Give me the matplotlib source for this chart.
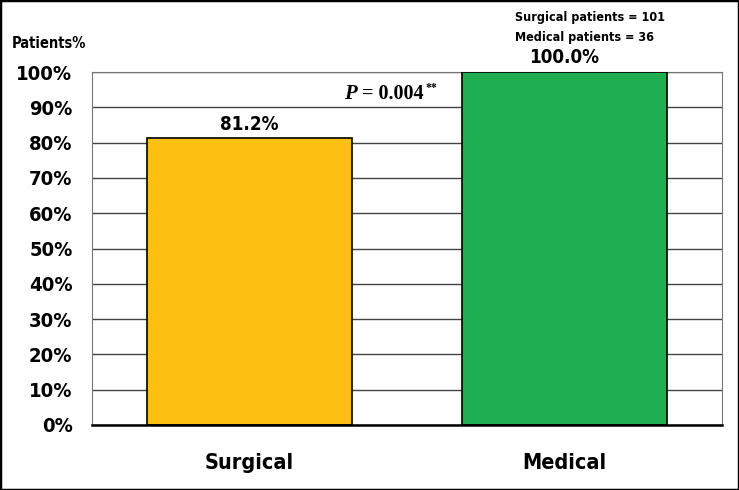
"""Percentage of patients by ward: surgical vs medical."""

import matplotlib
matplotlib.use("Agg")
import matplotlib.pyplot as plt
from matplotlib import font_manager
from matplotlib.patches import Rectangle

categories = ["Surgical", "Medical"]
values = [81.2, 100.0]
value_labels = ["81.2%", "100.0%"]
yticks = list(range(0, 101, 10))
ytick_labels = [f"{t}%" for t in yticks]
n_text = ["Surgical patients = 101", "Medical patients = 36"]
p_text = "= 0.004"

W, H = 739, 490

# pick a narrow sans if one is installed
fonts = font_manager.fontManager.ttflist
names = {f.name for f in fonts}
if "Liberation Sans Narrow" in names:
    sans = dict(fontfamily="Liberation Sans Narrow")
elif any(f.name == "DejaVu Sans" and f.stretch == "condensed" for f in fonts):
    sans = dict(fontfamily="DejaVu Sans", fontstretch="condensed")
else:
    sans = dict(fontfamily="Liberation Sans")

fig = plt.figure(figsize=(W / 100, H / 100), dpi=100)
ax = fig.add_axes([92 / W, 1 - 425 / H, 630 / W, 353 / H])

x = range(len(categories))
ax.bar(x, values, width=0.65, color=["#FDBF12", "#1FAF50"], edgecolor="black",
       linewidth=1.2, zorder=3)
ax.set_xlim(-0.5, 1.5)
ax.set_ylim(0, 100)
ax.set_yticks(yticks)
ax.set_yticklabels(ytick_labels, fontweight="bold", fontsize=14.5, **sans)
ax.set_xticks(list(x))
ax.set_xticklabels(categories, fontweight="bold", fontsize=15.5, **sans)
ax.tick_params(axis="both", length=0)
ax.tick_params(axis="y", pad=14)
ax.tick_params(axis="x", pad=20)
ax.grid(axis="y", color="#444444", linewidth=1.0, zorder=0)
for side in ["left", "right", "top"]:
    ax.spines[side].set_color("#777777")
    ax.spines[side].set_linewidth(0.8)
ax.spines["bottom"].set_linewidth(1.8)
ax.spines["bottom"].set_zorder(4)

for xi, v, lab in zip(x, values, value_labels):
    ax.text(xi, v + 1.3, lab, ha="center", va="bottom", fontweight="bold",
            fontsize=13.5, **sans)

# P value, Times-like bold with italic P
fig.text(344 / W, 1 - 94 / H, "P", ha="left", va="center", fontfamily="Liberation Serif",
         fontweight="bold", fontstyle="italic", fontsize=15)
fig.text(362 / W, 1 - 94 / H, p_text, ha="left", va="center", fontfamily="Liberation Serif",
         fontweight="bold", fontsize=14.5)
fig.text(426 / W, 1 - 88 / H, "**", ha="left", va="center", fontfamily="Liberation Serif",
         fontweight="bold", fontsize=8.5)

fig.text(515 / W, 1 - 17 / H, n_text[0], ha="left", va="center", fontweight="bold",
         fontsize=9, **sans)
fig.text(515 / W, 1 - 38 / H, n_text[1], ha="left", va="center", fontweight="bold",
         fontsize=9, **sans)
fig.text(12 / W, 1 - 43 / H, "Patients%", ha="left", va="center", fontweight="bold",
         fontsize=10.5, **sans)

fig.patches.append(Rectangle((0, 0), 1, 1, transform=fig.transFigure, fill=False,
                             edgecolor="black", linewidth=2.5))

fig.savefig("out.png", dpi=100)
